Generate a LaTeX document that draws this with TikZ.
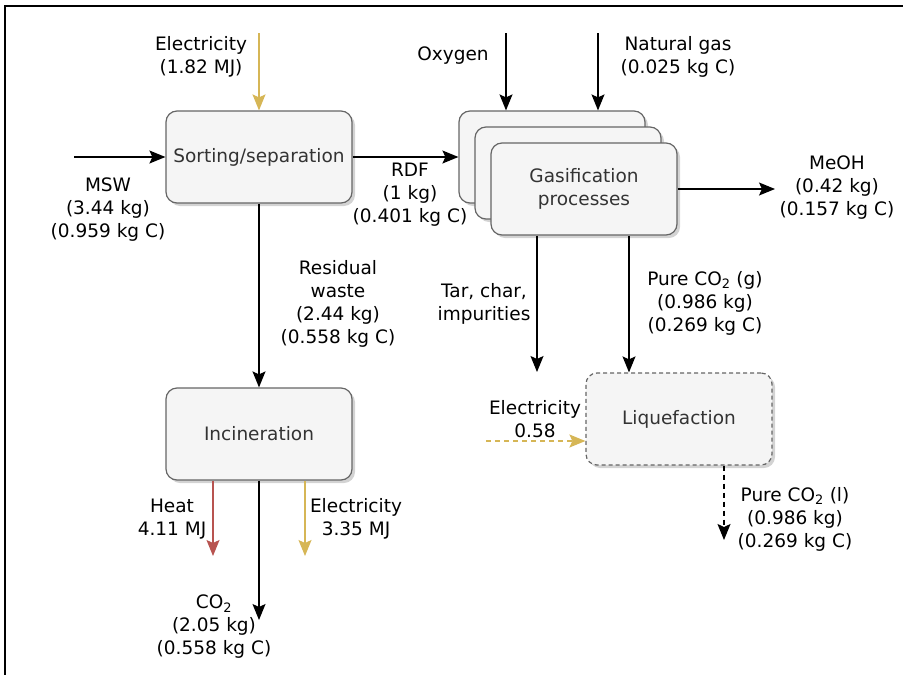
\documentclass[tikz,border=0pt]{standalone}
\usepackage{fontspec}
\setmainfont{DejaVu Sans}
\usetikzlibrary{arrows.meta,shadows}
\definecolor{boxfill}{HTML}{F5F5F5}
\definecolor{boxline}{HTML}{666666}
\definecolor{boxtext}{HTML}{333333}
\definecolor{elecgold}{HTML}{D6B656}
\definecolor{heatred}{HTML}{B85450}

\begin{document}
\begin{tikzpicture}[
  x=1pt, y=-1pt,
  >={Stealth[length=16pt,width=13pt,inset=3pt]},
  block/.style={rectangle, rounded corners=11pt, draw=boxline, fill=boxfill, line width=1.2pt,
    minimum width=186pt, minimum height=92pt, text=boxtext, align=center,
    drop shadow={shadow xshift=3pt, shadow yshift=-3pt, opacity=0.35}},
  lbl/.style={align=center, inner sep=0pt},
  flow/.style={->, line width=1.3pt},
  dashflow/.style={dash pattern=on 5pt off 4pt},
  font=\fontsize{18.5}{23}\selectfont
]
\useasboundingbox (0,0) rectangle (906,675);
\draw[line width=2pt] (5,675) -- (5,6) -- (903,6);

% process blocks
\node[block] (sort) at (259,157) {Sorting/separation};
\node[block] (gas3) at (552,157) {};
\node[block] (gas2) at (568,173) {};
\node[block] (gas1) at (584,189) {Gasification\\processes};
\node[block] (inc) at (259,434) {Incineration};
\node[block, dash pattern=on 4pt off 3pt] (liq) at (679,419) {Liquefaction};

% free ends
\coordinate (mswin) at (74,157);
\coordinate (elecin) at (259,33);
\coordinate (oxyin) at (506,33);
\coordinate (gasin) at (598,33);
\coordinate (meohout) at (775,189);
\coordinate (tarout) at (537,372);
\coordinate (co2gx) at (629,300);
\coordinate (elecliq) at (486,441);
\coordinate (co2lout) at (724,540);
\coordinate (heatout) at (213,556);
\coordinate (elecout) at (305,556);
\coordinate (co2out) at (259,620);

% labels
\node[lbl] (l_elecin) at (201,57) {Electricity\\(1.82 MJ)};
\node[lbl] (l_msw) at (108,210) {MSW\\(3.44 kg)\\(0.959 kg C)};
\node[lbl] (l_rdf) at (410,195) {RDF\\(1 kg)\\(0.401 kg C)};
\node[lbl] (l_oxy) at (453,56) {Oxygen};
\node[lbl] (l_gas) at (678,57) {Natural gas\\(0.025 kg C)};
\node[lbl] (l_meoh) at (837,188) {MeOH\\(0.42 kg)\\(0.157 kg C)};
\node[lbl] (l_tar) at (484,304) {Tar, char,\\impurities};
\node[lbl] (l_co2g) at (705,303) {Pure CO\textsubscript{2} (g)\\(0.986 kg)\\(0.269 kg C)};
\node[lbl] (l_res) at (338,304) {Residual\\waste\\(2.44 kg)\\(0.558 kg C)};
\node[lbl] (l_elecliq) at (535,419) {Electricity\\0.58};
\node[lbl] (l_co2l) at (795,519) {Pure CO\textsubscript{2} (l)\\(0.986 kg)\\(0.269 kg C)};
\node[lbl] (l_heat) at (172,519) {Heat\\4.11 MJ};
\node[lbl] (l_elecout) at (356,519) {Electricity\\3.35 MJ};
\node[lbl] (l_co2) at (214,627) {CO\textsubscript{2}\\(2.05 kg)\\(0.558 kg C)};

% flows
\draw[flow] (mswin) -- (sort);
\draw[flow, elecgold] (elecin) -- (sort);
\draw[flow] (sort) -- (gas3);
\draw[flow] (oxyin) -- (oxyin |- gas3.north);
\draw[flow] (gasin) -- (gasin |- gas3.north);
\draw[flow] (gas1) -- (meohout);
\draw[flow] (tarout |- gas1.south) -- (tarout);
\draw[flow] (co2gx |- gas1.south) -- (co2gx |- liq.north);
\draw[flow, elecgold, dashflow] (elecliq) -- (elecliq -| liq.west);
\draw[flow, dashflow] (co2lout |- liq.south) -- (co2lout);
\draw[flow] (sort) -- (inc);
\draw[flow, heatred] (heatout |- inc.south) -- (heatout);
\draw[flow, elecgold] (elecout |- inc.south) -- (elecout);
\draw[flow] (inc) -- (co2out);
\end{tikzpicture}
\end{document}
